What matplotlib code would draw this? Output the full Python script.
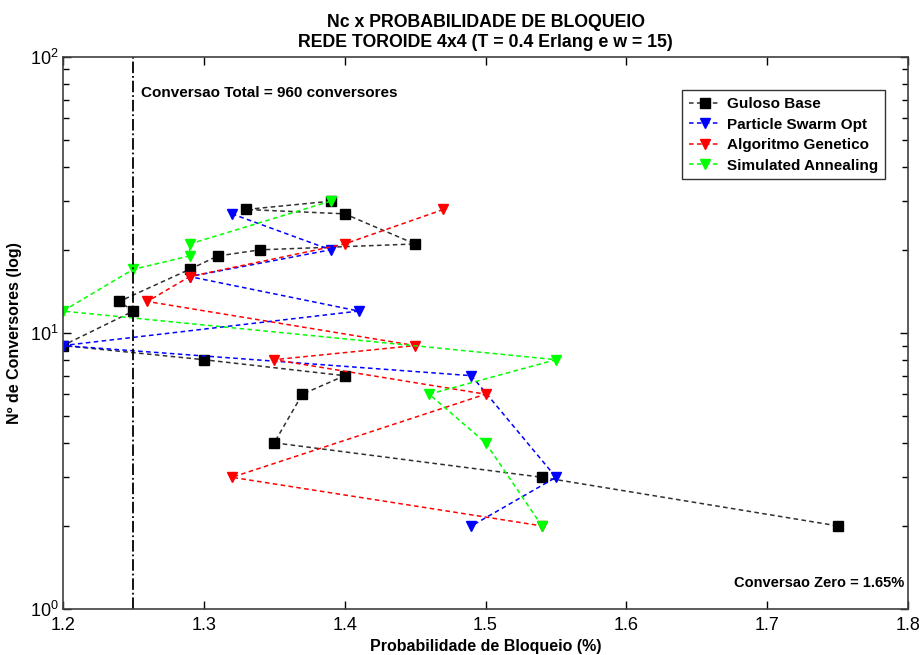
import matplotlib
matplotlib.use("Agg")
import matplotlib.pyplot as plt
from matplotlib.ticker import LogLocator, NullFormatter

# Blocking probability (%) and number of converters for each heuristic
guloso_pb = [1.39, 1.33, 1.40, 1.45, 1.34, 1.31, 1.29, 1.24, 1.25, 1.20, 1.30, 1.40, 1.37, 1.35, 1.54, 1.75]
guloso_nc = [30, 28, 27, 21, 20, 19, 17, 13, 12, 9, 8, 7, 6, 4, 3, 2]

pso_pb = [1.32, 1.39, 1.29, 1.41, 1.20, 1.49, 1.55, 1.49]
pso_nc = [27, 20, 16, 12, 9, 7, 3, 2]

ga_pb = [1.47, 1.40, 1.29, 1.26, 1.45, 1.35, 1.50, 1.32, 1.54]
ga_nc = [28, 21, 16, 13, 9, 8, 6, 3, 2]

sa_pb = [1.39, 1.29, 1.29, 1.25, 1.20, 1.55, 1.46, 1.50, 1.54]
sa_nc = [30, 21, 19, 17, 12, 8, 6, 4, 2]

conv_total_pb = 1.25
x_ticks = [1.2, 1.3, 1.4, 1.5, 1.6, 1.7, 1.8]

plt.rcParams["font.family"] = ["Liberation Sans", "DejaVu Sans"]
plt.rcParams["mathtext.fontset"] = "custom"
plt.rcParams["mathtext.rm"] = "Liberation Sans"

fig = plt.figure(figsize=(9.24, 6.55), dpi=100)
ax = fig.add_axes([0.068, 0.0702, 0.915, 0.843])

dash = (0, (3, 2.2))
ax.plot(guloso_pb, guloso_nc, color="#303030", linestyle=dash, lw=1.1,
        marker="s", ms=6.5, mfc="black", mec="black", label="Guloso Base")
ax.plot(pso_pb, pso_nc, color="blue", linestyle=dash, lw=1.1,
        marker="v", ms=7, mfc="blue", mec="blue", label="Particle Swarm Opt")
ax.plot(ga_pb, ga_nc, color="red", linestyle=dash, lw=1.1,
        marker="v", ms=7, mfc="red", mec="red", label="Algoritmo Genetico")
ax.plot(sa_pb, sa_nc, color="#00ff00", linestyle=dash, lw=1.1,
        marker="v", ms=7, mfc="#00ff00", mec="#00ff00", label="Simulated Annealing")

ax.axvline(conv_total_pb, color="black", linestyle="-.", lw=1.3)

ax.set_yscale("log")
ax.set_xlim(1.2, 1.8)
ax.set_ylim(1, 100)
ax.set_xticks(x_ticks)
ax.set_xticklabels([f"{t:.1f}" for t in x_ticks], fontsize=13)
ax.yaxis.set_major_locator(LogLocator(base=10))
ax.yaxis.set_minor_locator(LogLocator(base=10, subs=range(2, 10)))
ax.yaxis.set_minor_formatter(NullFormatter())
ax.tick_params(axis="y", labelsize=13, pad=3)
ax.tick_params(axis="x", pad=6)
ax.tick_params(which="both", direction="in", top=True, right=True)
ax.tick_params(which="major", length=6, width=1)
ax.tick_params(which="minor", length=4, width=1)
for sp in ax.spines.values():
    sp.set_linewidth(1.2)
    sp.set_color("#404040")

ax.set_xlabel("Probabilidade de Bloqueio (%)", fontsize=11.5, fontweight="bold", labelpad=3)
ax.set_ylabel("Nº de Conversores (log)", fontsize=11.5, fontweight="bold", labelpad=6)
ax.set_title("Nc x PROBABILIDADE DE BLOQUEIO\nREDE TOROIDE 4x4 (T = 0.4 Erlang e w = 15)",
             fontsize=12.8, fontweight="bold", linespacing=1.25, pad=7)

ax.text(1.2555, 74, "Conversao Total = 960 conversores", fontsize=11, fontweight="bold",
        va="center", ha="left")
ax.text(1.797, 1.24, "Conversao Zero = 1.65%", fontsize=10.5, fontweight="bold",
        va="center", ha="right")

leg = ax.legend(loc="upper right", bbox_to_anchor=(0.982, 0.953),
                prop={"weight": "bold", "size": 11}, frameon=True, fancybox=False,
                edgecolor="black", handlelength=2.0, handletextpad=0.5,
                borderpad=0.45, labelspacing=0.42)
leg.get_frame().set_linewidth(1.0)

fig.savefig("out.png", dpi=100)
